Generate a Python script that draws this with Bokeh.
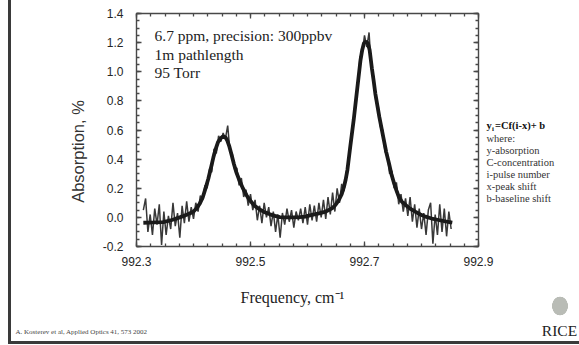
from math import pi
from bokeh.plotting import figure
from bokeh.models import (Label, FixedTicker, LinearAxis, Range1d, PrintfTickFormatter)
from bokeh.embed import file_html
from bokeh.resources import INLINE

# ---- data ----
fit_freq = [992.312, 992.330, 992.347, 992.362, 992.376, 992.388, 992.399, 992.405, 992.411, 992.416,
            992.420, 992.426, 992.430, 992.435, 992.439, 992.443, 992.448, 992.452, 992.456, 992.459,
            992.463, 992.467, 992.471, 992.475, 992.481, 992.487, 992.493, 992.499, 992.507, 992.516,
            992.525, 992.534, 992.543, 992.551, 992.563, 992.575, 992.586, 992.596, 992.604, 992.612,
            992.620, 992.632, 992.643, 992.649, 992.655, 992.660, 992.664, 992.667, 992.670, 992.675,
            992.681, 992.687, 992.693, 992.696, 992.699, 992.703, 992.706, 992.709, 992.713, 992.716,
            992.719, 992.726, 992.734, 992.738, 992.743, 992.747, 992.752, 992.756, 992.760, 992.765,
            992.772, 992.780, 992.789, 992.798, 992.807, 992.818, 992.830, 992.842, 992.854]
fit_abs = [-0.037, -0.035, -0.032, -0.018, 0.000, 0.018, 0.037, 0.060, 0.094, 0.135,
           0.185, 0.265, 0.330, 0.414, 0.470, 0.517, 0.545, 0.556, 0.550, 0.530,
           0.485, 0.426, 0.365, 0.311, 0.250, 0.197, 0.152, 0.117, 0.080, 0.055,
           0.035, 0.021, 0.010, 0.002, 0.000, 0.000, 0.002, 0.005, 0.014, 0.020,
           0.027, 0.040, 0.062, 0.085, 0.119, 0.160, 0.210, 0.260, 0.325, 0.485,
           0.668, 0.875, 1.080, 1.150, 1.195, 1.207, 1.195, 1.150, 1.023, 0.940,
           0.850, 0.690, 0.530, 0.450, 0.370, 0.300, 0.233, 0.185, 0.142, 0.110,
           0.085, 0.060, 0.039, 0.020, 0.005, -0.008, -0.018, -0.028, -0.036]

freq = [992.312, 992.316, 992.320, 992.324, 992.328, 992.332, 992.336, 992.340, 992.344, 992.348,
        992.352, 992.356, 992.360, 992.364, 992.368, 992.372, 992.376, 992.380, 992.384, 992.388,
        992.392, 992.396, 992.400, 992.404, 992.408, 992.412, 992.416, 992.420, 992.424, 992.428,
        992.432, 992.436, 992.440, 992.444, 992.448, 992.452, 992.456, 992.460, 992.464, 992.468,
        992.472, 992.476, 992.480, 992.484, 992.488, 992.492, 992.496, 992.500, 992.504, 992.508,
        992.512, 992.516, 992.520, 992.524, 992.528, 992.532, 992.536, 992.540, 992.544, 992.548,
        992.552, 992.556, 992.560, 992.564, 992.568, 992.572, 992.576, 992.580, 992.584, 992.588,
        992.592, 992.596, 992.600, 992.604, 992.608, 992.612, 992.616, 992.620, 992.624, 992.628,
        992.632, 992.636, 992.640, 992.644, 992.648, 992.652, 992.656, 992.660, 992.664, 992.668,
        992.672, 992.676, 992.680, 992.684, 992.688, 992.692, 992.696, 992.700, 992.704, 992.708,
        992.712, 992.716, 992.720, 992.724, 992.728, 992.732, 992.736, 992.740, 992.744, 992.748,
        992.752, 992.756, 992.760, 992.764, 992.768, 992.772, 992.776, 992.780, 992.784, 992.788,
        992.792, 992.796, 992.800, 992.804, 992.808, 992.812, 992.816, 992.820, 992.824, 992.828,
        992.832, 992.836, 992.840, 992.844, 992.848, 992.852]
absorption = [0.05, 0.13, -0.10, 0.02, -0.12, 0.06, -0.05, 0.09, -0.19, 0.04,
              -0.12, 0.01, -0.08, 0.10, -0.06, 0.03, -0.14, 0.08, -0.04, 0.11,
              -0.03, 0.07, -0.01, 0.10, 0.04, 0.15, 0.12, 0.22, 0.20, 0.33,
              0.31, 0.47, 0.44, 0.56, 0.52, 0.58, 0.54, 0.63, 0.45, 0.44,
              0.33, 0.34, 0.22, 0.27, 0.14, 0.19, 0.08, 0.16, 0.05, 0.12,
              -0.02, 0.08, -0.04, 0.10, 0.00, 0.07, -0.06, 0.04, -0.10, 0.02,
              -0.14, 0.03, -0.05, 0.06, -0.03, 0.05, -0.07, 0.04, -0.02, 0.06,
              -0.04, 0.07, -0.05, 0.09, -0.02, 0.08, -0.03, 0.10, 0.00, 0.12,
              -0.01, 0.14, 0.02, 0.17, 0.04, 0.20, 0.10, 0.23, 0.18, 0.31,
              0.37, 0.54, 0.62, 0.80, 0.89, 1.10, 1.13, 1.25, 1.17, 1.27,
              1.02, 0.97, 0.79, 0.77, 0.62, 0.60, 0.45, 0.44, 0.30, 0.32,
              0.20, 0.24, 0.09, 0.16, 0.04, 0.13, 0.01, 0.14, -0.03, 0.09,
              -0.07, 0.06, -0.08, 0.03, -0.12, 0.05, 0.10, -0.18, 0.02, -0.12,
              0.09, -0.10, 0.06, -0.13, 0.04, -0.08]

x_lo, x_hi = 992.3, 992.9
y_lo, y_hi = -0.2, 1.4
x_ticks = [992.3, 992.5, 992.7, 992.9]
y_ticks = [-0.2, 0.0, 0.2, 0.4, 0.6, 0.8, 1.0, 1.2, 1.4]

info_lines = ["6.7 ppm, precision: 300ppbv", "1m pathlength", "95 Torr"]
legend_lines = ["where:", "y-absorption", "C-concentration", "i-pulse number",
                "x-peak shift", "b-baseline shift"]

SERIF = "Liberation Serif"
SANS = "Liberation Sans"
AXC = "#484848"

# page geometry: the axes box sits at 136..478 px (x) and 13..246 px (y) on a 579x345 slide
W, H = 579, 345
BOX_L, BOX_R, BOX_T, BOX_B = 136, 478, 13, 246
sx = (BOX_R - BOX_L) / (x_hi - x_lo)
sy = (BOX_B - BOX_T) / (y_hi - y_lo)
x_range = Range1d(x_lo - BOX_L / sx, x_hi + (W - BOX_R) / sx)
y_range = Range1d(y_lo - (H - BOX_B) / sy, y_hi + BOX_T / sy)

# slide decoration drawn by the page background: left and bottom slide edges, logo crest
slide_css = {
    "background-color": "white",
    "background-image": ("linear-gradient(#3a3a3a, #3a3a3a), linear-gradient(#3a3a3a, #3a3a3a), "
                         "radial-gradient(ellipse 11px 13px at 560px 306px, #b9bcb6 70%, "
                         "rgba(255,255,255,0) 74%)"),
    "background-size": "3px 344px, 571px 3px, 579px 345px",
    "background-position": "8px 0px, 8px 341px, 0px 0px",
    "background-repeat": "no-repeat",
}

p = figure(width=W, height=H, x_range=x_range, y_range=y_range,
           output_backend="svg", toolbar_location=None, min_border=0,
           background_fill_alpha=0, border_fill_color=None, outline_line_color=None,
           styles=slide_css)
p.title.visible = False
p.grid.visible = False

x_minor = [round(992.3 + 0.025 * i, 3) for i in range(25)]
y_minor = [round(-0.2 + 0.05 * i, 2) for i in range(33)]

def style_axis(ax, labels=True, standoff=10):
    ax.axis_line_color = AXC
    ax.axis_line_width = 1.4
    ax.major_tick_in = 5
    ax.major_tick_out = 0
    ax.minor_tick_in = 3
    ax.minor_tick_out = 0
    ax.major_tick_line_color = AXC
    ax.minor_tick_line_color = AXC
    ax.major_tick_line_width = 1.3
    ax.minor_tick_line_width = 1.3
    if labels:
        ax.major_label_text_font = SANS
        ax.major_label_text_font_size = "12px"
        ax.major_label_text_color = "#262626"
        ax.major_label_standoff = standoff
        ax.formatter = PrintfTickFormatter(format="%.1f")
    else:
        ax.major_label_text_alpha = 0
        ax.major_label_text_font_size = "1px"
        ax.major_label_standoff = 0

xt = FixedTicker(ticks=x_ticks, minor_ticks=x_minor)
yt = FixedTicker(ticks=y_ticks, minor_ticks=y_minor)

bottom = p.xaxis[0]
bottom.ticker = xt
bottom.fixed_location = y_lo
bottom.bounds = (x_lo, x_hi)
left = p.yaxis[0]
left.ticker = yt
left.fixed_location = x_lo
left.bounds = (y_lo, y_hi)
style_axis(bottom, standoff=10)
style_axis(left, standoff=13)

top = LinearAxis(ticker=xt, fixed_location=y_hi, bounds=(x_lo, x_hi))
right = LinearAxis(ticker=yt, fixed_location=x_hi, bounds=(y_lo, y_hi))
style_axis(top, labels=False)
style_axis(right, labels=False)
p.add_layout(top, "above")
p.add_layout(right, "right")

# data and fit
p.line(freq, absorption, line_color="#383838", line_width=1.5)
p.line(fit_freq, fit_abs, line_color="#1a1a1a", line_width=3.8)

def note(x, y, text, size, font=SERIF, color="#222222", bold=False, **kw):
    # x from slide left, y from slide top (pixels)
    p.add_layout(Label(x=x, y=H - y, x_units="screen", y_units="screen", text=text,
                       text_font=font, text_font_size=size, text_color=color,
                       text_font_style="bold" if bold else "normal",
                       text_baseline="middle", **kw))

for k, t in enumerate(info_lines):
    note(154, 35 + 18.5 * k, t, "15.5px")

note(486, 125, "y", "10.5px", color="#111111", bold=True)
note(491.5, 128, "i", "7px", color="#111111", bold=True)
note(494.5, 125, "=Cf(i-x)+ b", "10.5px", color="#111111", bold=True)
for k, t in enumerate(legend_lines):
    note(486, 137.5 + 12 * k, t, "10.5px", color="#333333")

note(77, 151, "Absorption, %", "16.5px", font=SANS, color="#333333", angle=pi / 2,
     text_align="center")
note(240, 297, "Frequency, cm\u207b\u00b9", "16px")
note(15, 331, "A. Kosterev et al, Applied Optics 41, 573 2002", "7px", color="#444444")
note(559, 330, "RICE", "15.5px", text_align="center")

open("out.html", "w").write(file_html(p, INLINE))
